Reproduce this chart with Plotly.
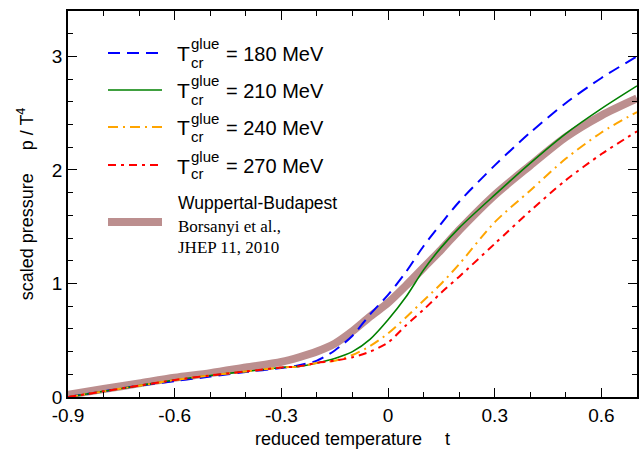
import plotly.graph_objects as go

t = [-0.9, -0.8, -0.7, -0.6, -0.5, -0.4, -0.3, -0.25, -0.2, -0.15, -0.1, -0.05, 0.0,
     0.05, 0.1, 0.15, 0.2, 0.3, 0.4, 0.5, 0.6, 0.7]

p_wb = [0.02, 0.07, 0.12, 0.17, 0.21, 0.26, 0.31, 0.35, 0.40, 0.47, 0.58, 0.71, 0.83,
        0.98, 1.14, 1.30, 1.47, 1.78, 2.04, 2.29, 2.48, 2.63]
p_180 = [0.0, 0.05, 0.10, 0.14, 0.18, 0.22, 0.255, 0.28, 0.32, 0.41, 0.54, 0.73, 0.90,
         1.10, 1.33, 1.53, 1.72, 2.04, 2.33, 2.59, 2.81, 3.00]
p_210 = [0.0, 0.05, 0.10, 0.15, 0.19, 0.225, 0.26, 0.27, 0.30, 0.34, 0.40, 0.51, 0.68,
         0.88, 1.12, 1.32, 1.49, 1.78, 2.06, 2.32, 2.54, 2.74]
p_240 = [0.0, 0.05, 0.10, 0.15, 0.19, 0.225, 0.26, 0.27, 0.30, 0.32, 0.37, 0.45, 0.56,
         0.70, 0.85, 1.00, 1.17, 1.54, 1.82, 2.10, 2.33, 2.51]
p_270 = [0.0, 0.05, 0.10, 0.15, 0.19, 0.225, 0.26, 0.27, 0.30, 0.32, 0.35, 0.40, 0.48,
         0.63, 0.77, 0.92, 1.06, 1.35, 1.64, 1.91, 2.14, 2.34]

labels = ["180", "210", "240", "270"]
x_ticks = [-0.9, -0.6, -0.3, 0, 0.3, 0.6]
x_ticklabels = ["-0.9", "-0.6", "-0.3", "0", "0.3", "0.6"]
y_ticks = [0, 1, 2, 3]

colors = ["#0000ff", "#008000", "#ffa500", "#ff0000"]
dashes = ["12px,7px", "solid", "10px,5px,2px,5px", "8px,5px,3px,5px"]
widths = [2, 1.6, 2, 2]
series = [p_180, p_210, p_240, p_270]

fig = go.Figure()
fig.add_trace(go.Scatter(x=t, y=p_wb, mode="lines",
                         line=dict(color="#bc8f8f", width=8, shape="spline", smoothing=0.8),
                         showlegend=False))
for s, c, d, w in zip(series, colors, dashes, widths):
    fig.add_trace(go.Scatter(x=t, y=s, mode="lines",
                             line=dict(color=c, width=w, dash=d, shape="spline", smoothing=0.8),
                             showlegend=False))

font = "Liberation Sans, Arial, sans-serif"
fig.update_layout(
    width=639, height=455,
    margin=dict(l=68, r=2, t=11, b=58),
    plot_bgcolor="white", paper_bgcolor="white",
    font=dict(family=font, size=18, color="black"),
    xaxis=dict(range=[-0.9, 0.7], tickvals=x_ticks, ticktext=x_ticklabels,
               ticks="inside", ticklen=9, tickwidth=1, tickcolor="black",
               minor=dict(dtick=0.1, ticks="inside", ticklen=5, tickcolor="black"),
               showline=True, linecolor="black", linewidth=1.5, mirror="ticks",
               showgrid=False, zeroline=False, automargin=False,
               title=dict(text="reduced temperature\u2003 t", font=dict(size=18), standoff=8),
               tickfont=dict(size=19)),
    yaxis=dict(range=[0, 3.4], tickvals=y_ticks,
               ticks="inside", ticklen=9, tickwidth=1, tickcolor="black",
               minor=dict(dtick=0.2, ticks="inside", ticklen=5, tickcolor="black"),
               showline=True, linecolor="black", linewidth=1.5, mirror="ticks",
               showgrid=False, zeroline=False, automargin=False,
               title=dict(text="scaled pressure\u2003 p / T<sup>4</sup>", font=dict(size=18), standoff=14),
               tickfont=dict(size=19)),
)

# Legend (manual, in paper coordinates)
def px(xp):
    return (xp - 68) / (637 - 68)

def py(yp):
    return (397 - yp) / (397 - 11)

row_y = [53, 90, 127, 165]
shapes = []
annotations = []
for lab, c, d, w, yy in zip(labels, colors, dashes, widths, row_y):
    shapes.append(dict(type="line", xref="paper", yref="paper", x0=px(108), x1=px(162), y0=py(yy), y1=py(yy),
                       line=dict(color=c, width=w, dash=d)))
    annotations.append(dict(xref="paper", yref="paper", x=px(175), y=py(yy + 1), text="T", showarrow=False,
                            xanchor="left", yanchor="middle", font=dict(size=21)))
    annotations.append(dict(xref="paper", yref="paper", x=px(189), y=py(yy - 9), text="glue", showarrow=False,
                            xanchor="left", yanchor="middle", font=dict(size=15)))
    annotations.append(dict(xref="paper", yref="paper", x=px(189), y=py(yy + 9), text="cr", showarrow=False,
                            xanchor="left", yanchor="middle", font=dict(size=15)))
    annotations.append(dict(xref="paper", yref="paper", x=px(224), y=py(yy + 1), text="= " + lab + " MeV",
                            showarrow=False, xanchor="left", yanchor="middle", font=dict(size=20)))

shapes.append(dict(type="line", xref="paper", yref="paper", x0=px(108), x1=px(162), y0=py(222), y1=py(222),
                   line=dict(color="#bc8f8f", width=8)))
annotations.append(dict(xref="paper", yref="paper", x=px(176), y=py(203), text="Wuppertal-Budapest",
                        showarrow=False, xanchor="left", yanchor="middle", font=dict(size=17.5)))
annotations.append(dict(xref="paper", yref="paper", x=px(176), y=py(226), text="Borsanyi et al.,",
                        showarrow=False, xanchor="left", yanchor="middle",
                        font=dict(size=17, family="Liberation Serif, Times New Roman, serif")))
annotations.append(dict(xref="paper", yref="paper", x=px(176), y=py(248), text="JHEP 11, 2010",
                        showarrow=False, xanchor="left", yanchor="middle",
                        font=dict(size=17, family="Liberation Serif, Times New Roman, serif")))

fig.update_layout(shapes=shapes, annotations=annotations)
fig.write_html("out.html", config={"displayModeBar": False},
               post_script="document.body.style.margin='0';document.body.style.overflow='hidden';")
